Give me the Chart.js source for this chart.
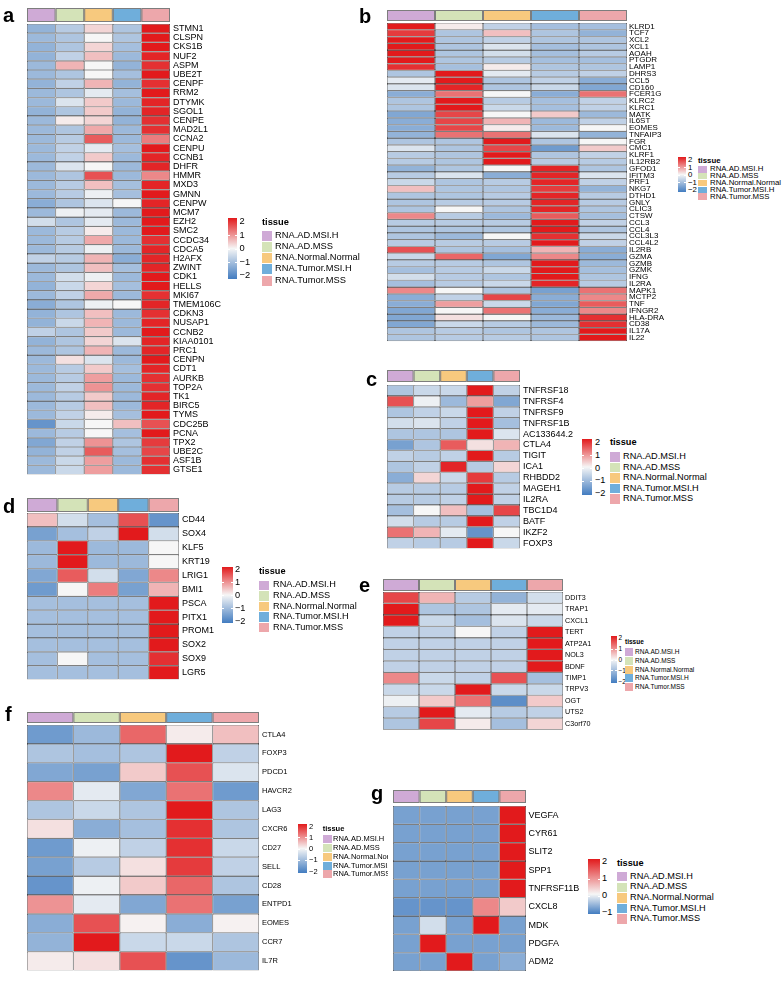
<!DOCTYPE html>
<html><head><meta charset="utf-8">
<script src="https://cdn.jsdelivr.net/npm/chart.js@4.4.1/dist/chart.umd.min.js"></script>
<style>
body{margin:0;background:#fff;width:784px;height:981px;position:relative;overflow:hidden;font-family:"Liberation Sans",Arial,sans-serif;}
.pl{position:absolute;font-weight:bold;font-size:20px;line-height:20px;color:#000;}
.box{position:absolute;}
canvas{display:block}
.t{position:absolute;white-space:nowrap;transform:translateY(-50%);color:#000;}
.r{position:absolute;}
</style></head><body>
<script>
// ---------------- DATA ----------------
const tissues = ['RNA.AD.MSI.H','RNA.AD.MSS','RNA.Normal.Normal','RNA.Tumor.MSI.H','RNA.Tumor.MSS'];
const tissueColors = ['#CFAAD6','#D4E3B8','#F7C97E','#6FAEDB','#EDA7AB'];
const tickLabels4 = ['2','1','0','\u22121','\u22122'];
const tickLabels3 = ['2','1','0','\u22121'];

const genesA = ['STMN1','CLSPN','CKS1B','NUF2','ASPM','UBE2T','CENPF','RRM2','DTYMK','SGOL1','CENPE','MAD2L1','CCNA2','CENPU','CCNB1','DHFR','HMMR','MXD3','GMNN','CENPW','MCM7','EZH2','SMC2','CCDC34','CDCA5','H2AFX','ZWINT','CDK1','HELLS','MKI67','TMEM106C','CDKN3','NUSAP1','CCNB2','KIAA0101','PRC1','CENPN','CDT1','AURKB','TOP2A','TK1','BIRC5','TYMS','CDC25B','PCNA','TPX2','UBE2C','ASF1B','GTSE1'];
const valuesA = [
[-1.1,-0.7,0.3,-0.8,2.0],[-1.0,-0.8,0.0,-0.8,2.0],[-1.1,-0.8,0.3,-0.9,2.0],[-1.1,-0.6,0.5,-1.0,1.9],
[-1.0,0.6,0.0,-1.1,1.8],[-1.0,-0.8,0.0,-0.9,2.0],[-1.1,-0.6,0.6,-1.1,1.8],[-1.0,-0.8,-0.2,-0.9,2.0],
[-1.0,-0.3,0.4,-1.0,1.9],[-1.1,-0.8,0.4,-1.1,1.9],[-1.0,0.1,0.3,-1.1,1.8],[-1.0,-0.8,0.7,-1.0,1.8],
[-1.0,-0.7,1.4,-1.0,1.1],[-1.0,-0.6,-0.2,-0.9,2.0],[-1.0,-0.6,0.4,-1.0,1.9],[-1.0,-0.3,0.0,-1.0,1.9],
[-1.0,-0.8,1.5,-1.0,1.0],[-1.0,-0.7,0.5,-0.9,1.9],[-1.0,-0.7,-0.1,-0.9,2.0],[-1.2,-0.8,-0.3,0.0,1.9],
[-1.0,-0.1,-0.2,-1.0,2.0],[-0.4,-0.8,-0.2,-1.0,2.0],[-1.0,-0.7,0.1,-1.0,2.0],[-1.0,-0.7,0.7,-1.0,1.8],
[-1.0,-0.7,-0.1,-1.0,1.9],[-0.6,-0.7,0.6,-1.2,1.9],[-1.0,-0.8,0.5,-0.9,1.9],[-1.0,-0.4,-0.1,-1.0,2.0],
[-1.1,-0.5,0.3,-0.9,2.0],[-1.0,-0.6,0.7,-1.0,1.8],[-1.2,-0.8,-0.1,0.0,1.9],[-1.1,-0.8,0.5,-1.0,1.8],
[-1.1,-0.5,0.6,-1.0,1.9],[-0.6,-0.8,0.4,-1.0,2.0],[-1.1,-0.8,0.3,-0.3,1.9],[-1.0,-0.8,0.6,-1.0,1.9],
[-1.0,0.2,-0.3,-1.0,2.0],[-1.0,-0.7,0.4,-0.9,1.9],[-1.0,-0.7,0.8,-1.0,1.8],[-1.0,-0.6,0.9,-1.0,1.8],
[-1.0,-0.7,0.4,-1.0,1.9],[-1.0,-0.7,0.5,-1.0,1.9],[-1.0,-0.6,0.1,-0.9,2.0],[-1.6,-0.5,0.0,0.5,1.5],
[-1.0,-0.7,0.0,-0.9,2.0],[-1.3,-0.6,0.9,-0.8,1.7],[-1.1,-0.6,1.4,-0.9,1.6],[-1.0,-0.5,0.8,-1.0,1.8],
[-1.0,-0.5,0.8,-1.0,1.8]];

const genesB = ['KLRD1','TCF7','XCL2','XCL1','AOAH','PTGDR','LAMP1','DHRS3','CCL5','CD160','FCER1G','KLRC2','KLRC1','MATK','IL6ST','EOMES','TNFAIP3','FGR','CMC1','KLRF1','IL12RB2','GFOD1','IFITM3','PRF1','NKG7','DTHD1','GNLY','CLIC3','CTSW','CCL3','CCL4','CCL3L3','CCL4L2','IL2RB','GZMA','GZMB','GZMK','IFNG','IL2RA','MAPK1','MCTP2','TNF','IFNGR2','HLA-DRA','CD38','IL17A','IL22'];
const valuesB = [
[2.0,0.1,-0.6,-0.9,-0.9],[1.7,-0.8,0.5,-0.8,-1.1],[2.0,-0.8,-0.6,-0.8,-0.8],[2.0,-0.8,-0.3,-0.9,-0.8],
[2.0,-0.8,-0.4,-0.9,-0.7],[2.0,-0.8,-0.7,-0.9,-0.9],[1.8,-0.9,0.1,-0.8,-0.8],[-0.8,2.0,-0.2,-0.7,-0.6],
[-0.2,2.0,-0.8,-0.6,-1.2],[-0.3,1.9,-0.8,-0.5,-1.3],[-1.2,1.2,0.0,-1.2,1.2],[-0.8,2.0,-0.7,-0.9,-0.6],
[-0.8,2.0,-0.5,-0.9,-0.6],[-1.3,1.6,0.0,0.4,-1.0],[-1.2,1.6,0.6,-1.0,-0.6],[-1.2,1.6,0.1,-1.0,0.0],
[-1.1,1.2,1.2,-0.3,-1.1],[-0.8,-0.8,2.0,-0.8,0.0],[-0.3,-0.8,1.6,-1.5,0.4],[-0.7,-0.8,2.0,-0.8,-0.6],
[-0.7,-0.8,2.0,-0.7,-0.7],[-1.1,-0.8,0.0,1.9,-0.8],[-0.7,-0.3,-1.2,1.9,-0.3],[-0.5,-0.8,-0.7,1.9,-0.6],
[0.5,-0.8,-0.8,1.7,-1.1],[-0.8,-0.8,-0.7,1.9,-0.7],[-0.8,-0.7,-0.7,1.9,-0.7],[-0.8,0.0,-0.8,1.9,-0.8],
[1.0,-0.7,-1.0,1.4,-0.9],[-0.7,-0.7,-0.7,2.0,-0.6],[-0.8,-0.8,-0.8,2.0,-0.8],[-0.8,-1.0,0.0,1.8,-0.5],
[-0.7,-0.7,-0.7,2.0,-0.6],[1.5,-0.8,-0.9,0.6,-1.2],[-0.5,1.3,-1.3,1.0,-1.2],[-0.7,-0.7,-0.8,2.0,-1.0],
[-0.9,-0.7,-0.5,2.0,-0.9],[-0.4,-0.7,-0.8,2.0,-0.8],[-0.9,-0.7,-0.5,1.9,-0.7],[1.0,0.0,-0.8,-1.4,1.2],
[-1.2,-0.6,1.6,-1.2,1.0],[-1.2,0.8,-0.5,-1.3,1.4],[-1.3,0.0,1.2,-1.2,1.0],[-1.3,0.2,0.0,-1.0,1.8],
[-1.3,-0.5,-0.7,-1.0,1.8],[-0.8,-0.7,-0.8,-0.8,2.0],[-0.8,-0.7,-0.7,-0.8,2.0]];

const genesC = ['TNFRSF18','TNFRSF4','TNFRSF9','TNFRSF1B','AC133644.2','CTLA4','TIGIT','ICA1','RHBDD2','MAGEH1','IL2RA','TBC1D4','BATF','IKZF2','FOXP3'];
const valuesC = [
[-0.8,-0.5,-0.5,2.0,-0.6],[1.5,-0.1,-1.0,0.8,-1.3],[-0.8,-0.6,-0.5,2.0,-0.6],[-0.4,-0.3,-0.6,2.0,-0.9],
[-0.8,-0.8,-0.8,2.0,-0.3],[-1.4,-0.8,1.4,0.2,0.6],[-0.6,-0.7,-0.6,2.0,-0.7],[-0.8,-0.6,1.9,-0.7,0.3],
[-1.2,0.3,-0.5,1.7,-0.7],[-0.7,-0.7,-0.7,2.0,-0.6],[-0.7,-0.7,-0.6,2.0,-0.6],[-0.9,0.0,0.5,-0.9,1.6],
[-0.4,-0.7,-0.7,2.0,-0.6],[1.2,0.6,-0.2,-1.6,0.0],[-0.6,-0.7,-0.7,2.0,-0.5]];

const genesD = ['CD44','SOX4','KLF5','KRT19','LRIG1','BMI1','PSCA','PITX1','PROM1','SOX2','SOX9','LGR5'];
const valuesD = [
[0.5,-0.4,-0.9,1.5,-1.6],[-1.4,-0.9,-0.6,2.0,-0.4],[-1.0,2.0,-1.0,-1.0,0.0],[-1.0,2.0,-1.0,-1.0,0.0],
[-1.3,1.4,-0.4,-1.3,1.0],[-1.5,0.0,1.1,-1.4,0.6],[-0.9,-0.9,-0.9,-0.9,2.0],[-0.9,-0.9,-0.9,-0.9,2.0],
[-0.9,-0.9,-0.9,-0.9,2.0],[-0.9,-0.9,-0.9,-0.9,2.0],[-0.9,0.0,-0.9,-0.9,1.8],[-0.9,-0.9,-0.9,-0.9,2.0]];

const genesE = ['DDIT3','TRAP1','CXCL1','TERT','ATP2A1','NOL3','BDNF','TIMP1','TRPV3','OGT','UTS2','C3orf70'];
const valuesE = [
[1.6,0.6,-0.7,-1.1,-0.4],[2.0,-0.8,-0.8,-0.2,-0.2],[2.0,-0.5,-0.9,-0.3,-0.5],[-0.6,-0.6,0.0,-0.6,2.0],
[-0.6,-0.6,-0.6,-0.6,2.0],[-0.6,-0.6,-0.6,-0.6,2.0],[-0.6,-0.6,-0.6,-0.6,2.0],[1.0,-0.5,-0.6,1.5,-0.9],
[-0.5,-0.5,2.0,-0.5,-0.5],[-0.1,0.4,1.2,-1.7,0.4],[-0.7,2.0,-0.2,-0.7,-0.6],[-0.8,1.6,0.1,-0.9,0.3]];

const genesF = ['CTLA4','FOXP3','PDCD1','HAVCR2','LAG3','CXCR6','CD27','SELL','CD28','ENTPD1','EOMES','CCR7','IL7R'];
const valuesF = [
[-1.5,-1.0,1.3,0.1,0.5],[-0.8,-0.9,-0.8,2.0,-0.6],[-1.3,-1.4,0.4,1.5,-0.3],[1.0,-0.2,-1.3,1.2,-1.5],
[-0.8,-0.5,-0.8,2.0,-0.8],[0.2,-1.2,-0.9,1.8,-0.8],[-1.5,-0.1,-0.6,1.8,-0.5],[-1.4,-0.7,0.2,1.7,-0.6],
[-1.6,-0.1,0.4,1.3,-0.8],[0.9,-0.2,-1.3,1.2,-1.4],[-1.2,1.5,0.05,-1.2,0.05],[-1.1,2.0,-0.5,-0.5,-0.8],
[0.1,0.2,1.5,-1.6,-1.0]];

const genesG = ['VEGFA','CYR61','SLIT2','SPP1','TNFRSF11B','CXCL8','MDK','PDGFA','ADM2'];
const valuesG = [
[-0.7,-0.7,-0.7,-0.7,2.0],[-0.7,-0.7,-0.7,-0.7,2.0],[-0.7,-0.7,-0.7,-0.7,2.0],[-0.7,-0.7,-0.7,-0.7,2.0],
[-0.7,-0.7,-0.7,-0.7,2.0],[-0.8,-0.8,-0.8,1.0,0.4],[-0.7,-0.2,-0.7,2.0,-0.7],[-0.7,2.0,-0.7,-0.7,-0.7],
[-0.7,-0.7,2.0,-0.7,-0.6]];

// ---------------- STYLE / LAYOUT ----------------
const NEG=[66,124,192], MID=[246,246,246], POS=[226,26,28];
function colorFor(v,vmin,vmax){
  const end = v<0?NEG:POS; const t = Math.min(1, v<0? v/vmin : v/vmax);
  const c = MID.map((m,i)=>Math.round(m+(end[i]-m)*t));
  return 'rgb('+c.join(',')+')';
}
const FONT='"Liberation Sans", Arial, sans-serif';

function addText(txt, x, y, size, bold, parent){
  const s=document.createElement('div'); s.className='t'; s.textContent=txt;
  s.style.left=x+'px'; s.style.top=y+'px'; s.style.fontSize=size+'px'; s.style.lineHeight=size+'px';
  if(bold) s.style.fontWeight='bold';
  (parent||document.body).appendChild(s); return s;
}
function addRect(x,y,w,h,bg,parent){
  const d=document.createElement('div'); d.className='r';
  d.style.left=x+'px'; d.style.top=y+'px'; d.style.width=w+'px'; d.style.height=h+'px'; d.style.background=bg;
  (parent||document.body).appendChild(d); return d;
}
function panelLabel(ch,x,y){ const d=document.createElement('div'); d.className='pl'; d.textContent=ch; d.style.left=x+'px'; d.style.top=y+'px'; d.style.fontFamily=FONT; document.body.appendChild(d); }

const annotPlugin = {
  id:'annot',
  afterDraw(chart){
    const o=chart.options.plugins.annot; const xs=chart.scales.x; const c=chart.ctx;
    c.save();
    for(let j=0;j<tissueColors.length;j++){
      const x0=xs.getPixelForValue(j), x1=xs.getPixelForValue(j+1);
      c.fillStyle=tissueColors[j]; c.fillRect(x0,o.y0,x1-x0,o.y1-o.y0);
      c.strokeStyle='#7d7d7d'; c.lineWidth=1; c.strokeRect(x0+0.5,o.y0+0.5,x1-x0-1,o.y1-o.y0-1);
    }
    c.restore();
  }
};

function heatmap(P){
  const box=document.createElement('div'); box.className='box';
  const W=(P.right-P.left)+P.labelW, H=P.bottom-P.annTop;
  box.style.left=P.left+'px'; box.style.top=P.annTop+'px'; box.style.width=W+'px'; box.style.height=H+'px';
  const cv=document.createElement('canvas'); cv.width=W; cv.height=H; cv.style.width=W+'px'; cv.style.height=H+'px';
  box.appendChild(cv); document.body.appendChild(box);
  new Chart(cv.getContext('2d'),{
    type:'bar',
    data:{labels:P.genes, datasets: tissues.map((t,j)=>({
      label:t, data:P.genes.map(()=>1),
      backgroundColor:P.values.map(r=>colorFor(r[j],P.vmin,P.vmax)),
      borderColor:'#2a2a2a', borderWidth:0.6, borderSkipped:false, inflateAmount:0,
      categoryPercentage:1, barPercentage:1}))},
    options:{indexAxis:'y', responsive:false, animation:false, events:[], devicePixelRatio:1,
      layout:{padding:{top:P.top-P.annTop,left:0,right:0,bottom:0}},
      plugins:{legend:{display:false},tooltip:{enabled:false},annot:{y0:0,y1:P.annBottom-P.annTop}},
      scales:{
        x:{stacked:true,display:false,min:0,max:5},
        y:{stacked:true,position:'right',grid:{display:false,drawTicks:false},border:{display:false},
           ticks:{autoSkip:false,padding:P.pad,color:'#000',font:{family:FONT,size:P.font}},
           afterFit:(s)=>{s.width=P.labelW;}}
      }},
    plugins:[annotPlugin]
  });
}

function legend(L){
  let parent=document.body;
  if(L.clipRight){ const c=document.createElement('div'); c.style.position='absolute'; c.style.left='0px'; c.style.top='0px'; c.style.width=L.clipRight+'px'; c.style.height='981px'; c.style.overflow='hidden'; document.body.appendChild(c); parent=c; }
  const grad = L.labels.length===4
    ? 'linear-gradient(to bottom, rgb(226,26,28) 0%, rgb(246,246,246) 64%, rgb(66,124,192) 100%)'
    : 'linear-gradient(to bottom, rgb(226,26,28) 0%, rgb(246,246,246) 50%, rgb(66,124,192) 100%)';
  addRect(L.barX,L.barTop,L.barW,L.barBottom-L.barTop,grad,parent);
  const n=L.labels.length;
  L.labels.forEach((lab,k)=>{
    const y=L.tTop+k*(L.tBot-L.tTop)/(n-1);
    addText(lab,L.barX+L.barW+L.tGap,y,L.font,false,parent);
    if(k>0&&k<n-1){ addRect(L.barX,y-0.5,2,1,'#fff',parent); addRect(L.barX+L.barW-2,y-0.5,2,1,'#fff',parent); }
  });
  addText('tissue',L.tisX,L.tisY,L.font,true,parent);
  tissues.forEach((t,k)=>{
    const y=L.itemY0+k*L.itemDy;
    addRect(L.tisX,y-L.sq/2,L.sqW,L.sq,tissueColors[k],parent);
    addText(t,L.textX,y,L.font,false,parent);
  });
}

// heatmap panels
heatmap({genes:genesA,values:valuesA,vmin:-2,vmax:2,left:27,right:170,annTop:8,annBottom:22,top:24,bottom:483,labelW:60,font:9,pad:3});
heatmap({genes:genesB,values:valuesB,vmin:-2,vmax:2,left:387,right:627,annTop:10,annBottom:21,top:23,bottom:348,labelW:44,font:8,pad:2});
heatmap({genes:genesC,values:valuesC,vmin:-2,vmax:2,left:387,right:520,annTop:370,annBottom:382,top:385,bottom:557,labelW:58,font:9,pad:3});
heatmap({genes:genesD,values:valuesD,vmin:-2,vmax:2,left:27,right:179,annTop:498,annBottom:512,top:513,bottom:688,labelW:45,font:9,pad:3});
heatmap({genes:genesE,values:valuesE,vmin:-2,vmax:2,left:383,right:563,annTop:579,annBottom:591,top:592,bottom:736,labelW:40,font:7.2,pad:2});
heatmap({genes:genesF,values:valuesF,vmin:-2,vmax:2,left:27,right:259,annTop:712,annBottom:723,top:725,bottom:978,labelW:36,font:7.5,pad:3});
heatmap({genes:genesG,values:valuesG,vmin:-1,vmax:2,left:393,right:526,annTop:790,annBottom:803,top:806,bottom:979,labelW:60,font:9,pad:2.5});

// legends
legend({labels:tickLabels4,barX:228,barW:9,barTop:218,barBottom:279,tTop:222,tBot:276,tGap:2.5,font:9.3,tisX:262,tisY:223,sqW:10,sq:10,itemY0:235.5,itemDy:11.3,textX:275});
legend({labels:tickLabels4,barX:678,barW:8,barTop:157,barBottom:192,tTop:160,tBot:190,tGap:2,font:7.8,tisX:698,tisY:160.7,sqW:9,sq:6.5,itemY0:169.3,itemDy:6.85,textX:710});
legend({labels:tickLabels4,barX:582,barW:10,barTop:439,barBottom:495,tTop:443,tBot:494,tGap:3,font:9.2,tisX:610,tisY:443,sqW:10,sq:9.5,itemY0:457,itemDy:10.5,textX:623});
legend({labels:tickLabels4,barX:222,barW:11,barTop:567,barBottom:623,tTop:570,tBot:621.7,tGap:2,font:9.2,tisX:259,tisY:571.7,sqW:10,sq:9.5,itemY0:585.3,itemDy:10.6,textX:273});
legend({labels:tickLabels4,barX:611,barW:6,barTop:636,barBottom:683,tTop:638.3,tBot:681.7,tGap:1.5,font:6.5,tisX:625,tisY:641.7,sqW:8,sq:8,itemY0:651.7,itemDy:8.9,textX:635});
legend({labels:tickLabels4,barX:298,barW:9,barTop:824,barBottom:873,tTop:826.7,tBot:871.7,tGap:2,font:7.5,tisX:322.7,tisY:829,sqW:9,sq:8,itemY0:839.3,itemDy:8.75,textX:333,clipRight:388});
legend({labels:tickLabels3,barX:588,barW:12,barTop:859,barBottom:914,tTop:862.3,tBot:913.3,tGap:2,font:9.2,tisX:617,tisY:864,sqW:10,sq:9.5,itemY0:876.7,itemDy:10.6,textX:630});

// panel letters
panelLabel('a',3,5); panelLabel('b',359,6); panelLabel('c',366,369); panelLabel('d',3,496);
panelLabel('e',359,575); panelLabel('f',5,704); panelLabel('g',371,783);
</script>
</body></html>
